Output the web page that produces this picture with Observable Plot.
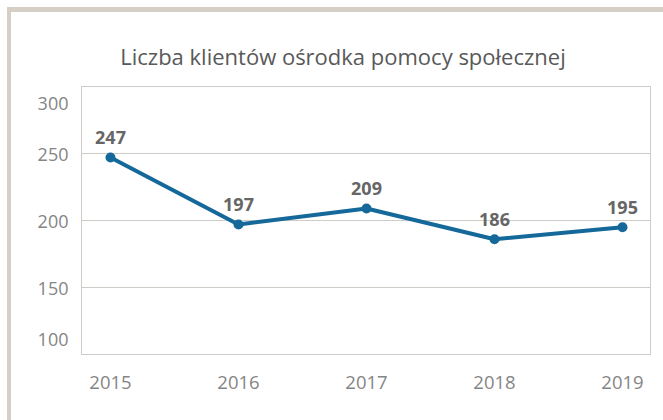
<!DOCTYPE html>
<html>
<head>
<meta charset="utf-8">
<script src="https://cdn.jsdelivr.net/npm/d3@7"></script>
<script src="https://cdn.jsdelivr.net/npm/@observablehq/plot@0.6"></script>
<style>
  html, body { margin: 0; padding: 0; background: #fff; }
  #wrap { position: relative; width: 663px; height: 420px; overflow: hidden; background: #fff; font-family: "Open Sans", "Noto Sans", sans-serif; }
  #bandTop { position: absolute; left: 7px; top: 7px; width: 656px; height: 5px; background: #d6cfc6; }
  #bandLeft { position: absolute; left: 7px; top: 7px; width: 4px; height: 413px; background: #d6cfc6; }
  #title { position: absolute; left: 0; width: 686px; top: 41px; text-align: center; font-size: 22px; color: #595959; }
  #chart { position: absolute; left: 0; top: 0; }
</style>
</head>
<body>
<div id="wrap">
  <div id="bandTop"></div>
  <div id="bandLeft"></div>
  <div id="chart"></div>
  <div id="title">Liczba klientów ośrodka pomocy społecznej</div>
</div>
<script>
const years = ["2015", "2016", "2017", "2018", "2019"];
const clients = [247, 197, 209, 186, 195];
const yTicksMid = [150, 200, 250];
const yTickTop = [300];
const yTickBottom = [100];

const data = years.map((y, i) => ({year: y, value: clients[i]}));
const blue = "#14699a";
const tickFill = "#858585";

const chart = Plot.plot({
  width: 663,
  height: 420,
  marginTop: 86,
  marginBottom: 66,
  marginLeft: 81,
  marginRight: 13,
  style: {fontFamily: "'Open Sans', 'Noto Sans', sans-serif", background: "transparent"},
  x: {type: "point", domain: years, padding: 0.21, label: null},
  y: {domain: [100, 300], label: null},
  marks: [
    Plot.gridY(yTicksMid, {stroke: "#cfcbc6", strokeOpacity: 1}),
    Plot.frame({stroke: "#cfcbc6"}),
    Plot.axisY(yTicksMid, {tickSize: 0, tickPadding: 13, fontSize: 18, fill: tickFill, dy: 2, label: null}),
    Plot.axisY(yTickTop, {tickSize: 0, tickPadding: 13, fontSize: 18, fill: tickFill, dy: 17.5, label: null}),
    Plot.axisY(yTickBottom, {tickSize: 0, tickPadding: 13, fontSize: 18, fill: tickFill, dy: -14, label: null}),
    Plot.axisX(years, {tickSize: 0, tickPadding: 21, fontSize: 18.5, fill: tickFill, label: null}),
    Plot.line(data, {x: "year", y: "value", stroke: blue, strokeWidth: 4, strokeLinejoin: "round"}),
    Plot.dot(data, {x: "year", y: "value", fill: blue, r: 5}),
    Plot.text(data, {x: "year", y: "value", text: d => String(d.value), dy: -19, fontSize: 18, fontWeight: "bold", fill: "#666"})
  ]
});
document.getElementById("chart").appendChild(chart);
</script>
</body>
</html>
